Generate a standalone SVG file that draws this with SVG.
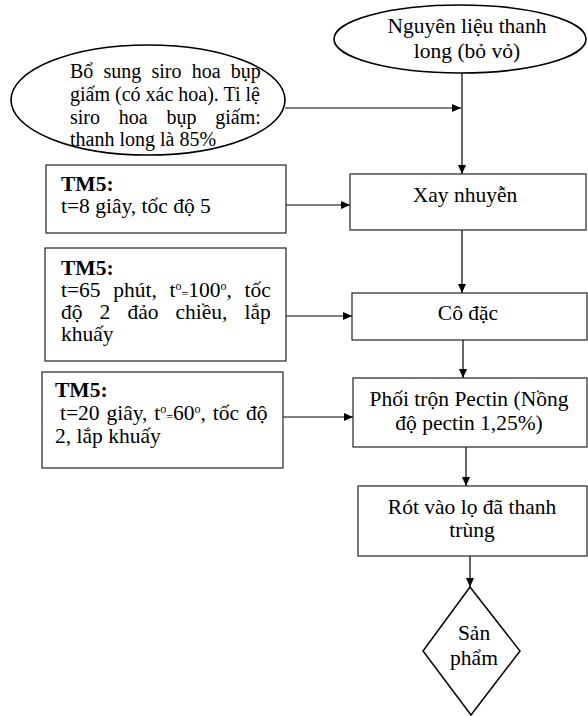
<svg xmlns="http://www.w3.org/2000/svg" width="588" height="716" viewBox="0 0 588 716">
<style>
  .t { font-family: "Liberation Serif", "Times New Roman", serif; font-size: 21.5px; fill: #000; }
  .s { font-size: 20px; }
  .c { text-anchor: middle; }
  .b { font-weight: bold; }
  .box { fill: #fff; stroke: #222; stroke-width: 1.2; }
  .ell { fill: #fff; stroke: #000; stroke-width: 1.6; }
  .ln { stroke: #000; stroke-width: 1.2; fill: none; marker-end: url(#ah); }
  .sup { font-size: 12px; }
</style>
<defs>
  <marker id="ah" markerWidth="9" markerHeight="8" refX="9" refY="4" orient="auto" markerUnits="userSpaceOnUse">
    <path d="M0,0 L9,4 L0,8 Z" fill="#000"/>
  </marker>
</defs>
<rect width="588" height="716" fill="#fff"/>

<g id="connectors">
  <line class="ln" x1="462" y1="73" x2="462" y2="174"/>
  <line class="ln" x1="285" y1="108" x2="461" y2="108"/>
  <line class="ln" x1="286" y1="205" x2="350" y2="205"/>
  <line class="ln" x1="462" y1="230" x2="462" y2="293"/>
  <line class="ln" x1="286" y1="316" x2="352" y2="316"/>
  <line class="ln" x1="463" y1="340" x2="463" y2="378"/>
  <line class="ln" x1="283" y1="417" x2="353" y2="417"/>
  <line class="ln" x1="466" y1="447" x2="466" y2="486"/>
  <line class="ln" x1="470" y1="556" x2="470" y2="587"/>
</g>

<g id="nguyen-lieu">
  <ellipse class="ell" cx="460" cy="39" rx="126" ry="34"/>
  <text class="t c" x="467" y="33">Nguyên liệu thanh</text>
  <text class="t c" x="467" y="58">long (bỏ vỏ)</text>
</g>

<g id="bo-sung">
  <ellipse class="ell" cx="148" cy="100" rx="137" ry="55"/>
  <text class="t s" x="70" y="78" word-spacing="5.2">Bổ sung siro hoa bụp</text>
  <text class="t s" x="70" y="101">giấm (có xác hoa). Ti lệ</text>
  <text class="t s" x="70" y="124" word-spacing="13.8">siro hoa bụp giấm:</text>
  <text class="t s" x="70" y="146">thanh long là 85%</text>
</g>

<g id="tm5-1">
  <rect class="box" x="46" y="165" width="240" height="68"/>
  <text class="t b" x="61" y="191">TM5:</text>
  <text class="t" x="61" y="213">t=8 giây, tốc độ 5</text>
</g>

<g id="xay-nhuyen">
  <rect class="box" x="350" y="174" width="236" height="56"/>
  <text class="t c" x="465" y="202">Xay nhuyễn</text>
</g>

<g id="tm5-2">
  <rect class="box" x="45" y="248" width="241" height="113"/>
  <text class="t b" x="61" y="275">TM5:</text>
  <text class="t" x="61" y="297" word-spacing="7.3">t=65 phút, t<tspan class="sup" baseline-shift="7">o</tspan><tspan class="sup" baseline-shift="-1">=</tspan>100<tspan class="sup" baseline-shift="7">o</tspan>, tốc</text>
  <text class="t" x="61" y="319" word-spacing="11.7">độ 2 đảo chiều, lắp</text>
  <text class="t" x="61" y="341">khuấy</text>
</g>

<g id="co-dac">
  <rect class="box" x="352" y="293" width="235" height="47"/>
  <text class="t c" x="468" y="320">Cô đặc</text>
</g>

<g id="tm5-3">
  <rect class="box" x="42" y="372" width="241" height="96"/>
  <text class="t b" x="55" y="397">TM5:</text>
  <text class="t" x="60" y="420" word-spacing="1.5">t=20 giây, t<tspan class="sup" baseline-shift="7">o</tspan><tspan class="sup" baseline-shift="-1">=</tspan>60<tspan class="sup" baseline-shift="7">o</tspan>, tốc độ</text>
  <text class="t" x="55" y="443">2, lắp khuấy</text>
</g>

<g id="phoi-tron">
  <rect class="box" x="353" y="378" width="234" height="69"/>
  <text class="t c" x="469" y="406">Phối trộn Pectin (Nồng</text>
  <text class="t c" x="469" y="430">độ pectin 1,25%)</text>
</g>

<g id="rot-vao-lo">
  <rect class="box" x="358" y="486" width="229" height="70"/>
  <text class="t c" x="472" y="514">Rót vào lọ đã thanh</text>
  <text class="t c" x="472" y="537">trùng</text>
</g>

<g id="san-pham">
  <polygon class="box" points="470,587 520,651 471,715 423,651" style="stroke:#000;stroke-width:1.5"/>
  <text class="t c" x="474" y="640">Sản</text>
  <text class="t c" x="474" y="665">phẩm</text>
</g>
</svg>
